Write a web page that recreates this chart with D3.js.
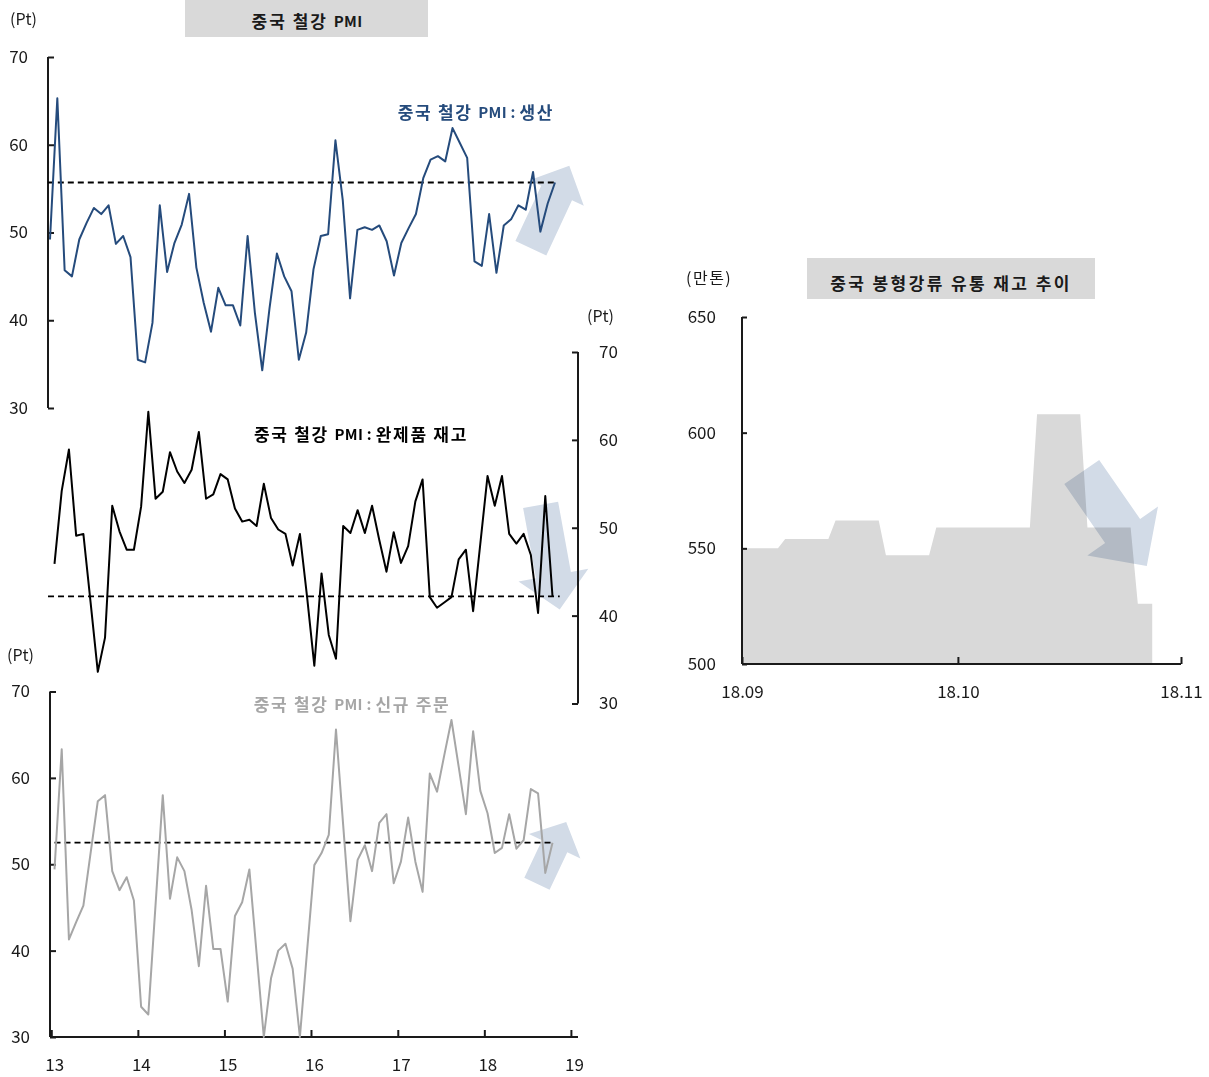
<!DOCTYPE html>
<html>
<head>
<meta charset="utf-8">
<script src="https://cdn.jsdelivr.net/npm/d3@7"></script>
<style>
  body { margin: 0; background: #fff; }
  svg { display: block; font-family: "Noto Sans CJK KR", "Noto Sans", sans-serif; }
</style>
</head>
<body>
<svg id="chart" width="1209" height="1077"></svg>
<script>
// China steel PMI sub-indices, monthly, Jan 2013 - Oct 2018 (index points)
const months = d3.timeMonth.range(new Date(2013, 0, 1), new Date(2018, 10, 1));
const production = [49.2, 65.3, 45.7, 45.0, 49.2, 51.1, 52.8, 52.1, 53.1, 48.7,
  49.6, 47.2, 35.5, 35.2, 39.7, 53.1, 45.5, 48.8, 50.9, 54.4,
  46.0, 42.0, 38.7, 43.7, 41.7, 41.7, 39.4, 49.6, 40.8, 34.3,
  41.4, 47.6, 45.0, 43.3, 35.5, 38.6, 45.8, 49.6, 49.8, 60.5,
  53.7, 42.5, 50.3, 50.6, 50.3, 50.8, 49.0, 45.1, 48.8, 50.5,
  52.1, 56.2, 58.3, 58.7, 58.1, 61.9, 60.2, 58.5, 46.7, 46.2,
  52.1, 45.4, 50.8, 51.5, 53.1, 52.6, 56.9, 50.1, 53.3, 55.7];
const inventory = [45.9, 54.2, 58.9, 49.1, 49.3, 41.5, 33.6, 37.5, 52.5, 49.6,
  47.5, 47.5, 52.4, 63.2, 53.3, 54.1, 58.6, 56.4, 55.1, 56.6,
  60.9, 53.3, 53.8, 56.1, 55.5, 52.2, 50.7, 50.9, 50.2, 55.0,
  51.1, 49.8, 49.3, 45.7, 49.3, 42.1, 34.3, 44.8, 37.8, 35.1,
  50.2, 49.4, 52.0, 49.4, 52.5, 48.6, 45.0, 49.5, 46.0, 47.9,
  53.0, 55.5, 42.1, 40.9, 41.5, 42.1, 46.4, 47.5, 40.5, 48.2,
  55.9, 52.5, 55.9, 49.3, 48.2, 49.3, 46.9, 40.3, 53.6, 42.2];
const newOrders = [49.4, 63.3, 41.3, 43.3, 45.2, 51.3, 57.3, 58.0, 49.2, 47.0,
  48.5, 45.8, 33.5, 32.6, 45.3, 58.0, 46.0, 50.8, 49.2, 44.7,
  38.2, 47.5, 40.2, 40.2, 34.1, 44.0, 45.6, 49.4, 39.7, 30.0,
  36.8, 40.0, 40.8, 37.9, 30.0, 40.0, 49.9, 51.3, 53.4, 65.6,
  54.5, 43.4, 50.5, 52.2, 49.2, 54.8, 55.8, 47.8, 50.3, 55.4,
  50.3, 46.8, 60.5, 58.4, 62.6, 66.7, 61.3, 55.8, 65.4, 58.5,
  55.9, 51.3, 51.9, 55.8, 51.8, 52.8, 58.7, 58.2, 49.0, 52.5];
const pmiTicks = [30, 40, 50, 60, 70];
const yearTicks = [2013, 2014, 2015, 2016, 2017, 2018, 2019];

// Distributed inventory of long steel products, weekly (10k tonnes)
const stockWeeks = ["2018-09-01", "2018-09-07", "2018-09-14", "2018-09-21", "2018-09-28",
  "2018-10-05", "2018-10-12", "2018-10-19", "2018-10-26"];
const stockValues = [550, 554, 562, 547, 559, 559, 608, 559, 526];
const stockLastDay = "2018-10-28";
const stockTicks = [500, 550, 600, 650];
const stockDateTicks = ["2018-09-01", "2018-10-01", "2018-11-01"];

const parseDay = d3.timeParse("%Y-%m-%d");
const svg = d3.select("#chart");
const INK = "#1a1a1a";
const BLUE = "#254b7c";
const GREY = "#a6a6a6";
const ARROW = "#d2dbe7";
const TICK_FONT = 17;

// ---------- scales ----------
const xTop = d3.scaleLinear().domain([0, months.length - 1]).range([50, 555]);
const xLow = d3.scaleLinear().domain([0, months.length - 1]).range([54.5, 552.5]);
const yTop = d3.scaleLinear().domain([30, 70]).range([408, 57]);
const yMid = d3.scaleLinear().domain([30, 70]).range([703.5, 352]);
const yBot = d3.scaleLinear().domain([30, 70]).range([1037, 691.5]);
const xYear = d3.scaleTime().domain([new Date(2013, 0, 1), new Date(2019, 0, 1)]).range([51.3, 570.9]);

const xStock = d3.scaleTime().domain([parseDay("2018-09-01"), parseDay("2018-11-01")]).range([742, 1181]);
const yStock = d3.scaleLinear().domain([500, 650]).range([664, 317]);

// block arrow built from a tail point and a tip point (pixels)
function blockArrow(t, p, shaft, head, headLen) {
  const dx = p[0] - t[0], dy = p[1] - t[1];
  const L = Math.hypot(dx, dy), ux = dx / L, uy = dy / L;
  const nx = -uy, ny = ux;
  const bx = p[0] - ux * headLen, by = p[1] - uy * headLen;
  const pts = [
    [t[0] + nx * shaft / 2, t[1] + ny * shaft / 2],
    [bx + nx * shaft / 2, by + ny * shaft / 2],
    [bx + nx * head / 2, by + ny * head / 2],
    p,
    [bx - nx * head / 2, by - ny * head / 2],
    [bx - nx * shaft / 2, by - ny * shaft / 2],
    [t[0] - nx * shaft / 2, t[1] - ny * shaft / 2]
  ];
  return "M" + pts.map(q => q[0].toFixed(1) + "," + q[1].toFixed(1)).join("L") + "Z";
}
function drawArrow(g, tail, tip, shaft, head, headLen) {
  g.append("path")
    .attr("d", blockArrow(tail, tip, shaft, head, headLen))
    .attr("fill", ARROW)
    .style("mix-blend-mode", "multiply");
}

function styleAxis(g) {
  g.select(".domain").remove();
  g.selectAll(".tick line").attr("stroke", INK).attr("stroke-width", 2);
  g.selectAll(".tick text").attr("fill", INK).attr("font-size", TICK_FONT)
    .attr("font-family", "Noto Sans CJK KR");
}

function noteText(x, y, txt, opts = {}) {
  const t = svg.append("text")
    .attr("x", x).attr("y", y)
    .attr("fill", opts.fill || INK)
    .attr("font-size", opts.size || 16)
    .attr("font-weight", opts.weight || 400)
    .attr("text-anchor", opts.anchor || "start")
    .attr("dominant-baseline", "central")
    .text(txt);
  if (opts.spacing) t.attr("letter-spacing", opts.spacing);
  return t;
}

// bold label mixing Korean (spaced) and Latin (tight, slightly smaller) runs
function seriesLabel(x, y, parts, fill, size, spacing) {
  const t = svg.append("text")
    .attr("x", x).attr("y", y)
    .attr("fill", fill)
    .attr("font-size", size)
    .attr("font-weight", 700)
    .attr("text-anchor", "middle")
    .attr("dominant-baseline", "central");
  parts.forEach(p => {
    const latin = /^[A-Za-z :]+$/.test(p);
    t.append("tspan")
      .attr("font-size", latin ? size - 2 : size)
      .attr("letter-spacing", latin ? 0.3 : spacing)
      .text(p);
  });
  return t;
}

// ---------- titles ----------
const arrowsLayer = svg.append("g");

svg.append("rect").attr("x", 185).attr("y", 0).attr("width", 243).attr("height", 37).attr("fill", "#d9d9d9");
seriesLabel(307, 20, ["중국 철강 ", "PMI"], INK, 17, 2);
svg.append("rect").attr("x", 807).attr("y", 258).attr("width", 288).attr("height", 41).attr("fill", "#d9d9d9");
noteText(951, 282, "중국 봉형강류 유통 재고 추이", { size: 17, weight: 700, anchor: "middle", spacing: 2.4 });

// ---------- production panel ----------
drawArrow(arrowsLayer, [xTop(65.7), yTop(48.2)], [xTop(70.95), yTop(57.6)], 34, 60, 30);
svg.append("line").attr("x1", 48).attr("x2", 48).attr("y1", yTop(70)).attr("y2", yTop(30))
  .attr("stroke", INK).attr("stroke-width", 2);
const gTop = svg.append("g").attr("transform", "translate(48,0)")
  .call(d3.axisLeft(yTop).tickValues(pmiTicks).tickSize(-6).tickSizeOuter(0).tickPadding(20));
styleAxis(gTop);
svg.append("line")
  .attr("x1", xTop(-0.3)).attr("x2", xTop(months.length - 1))
  .attr("y1", yTop(production[production.length - 1])).attr("y2", yTop(production[production.length - 1]))
  .attr("stroke", "#000").attr("stroke-width", 1.8).attr("stroke-dasharray", "6,4");
svg.append("path").datum(production)
  .attr("d", d3.line().x((d, i) => xTop(i)).y(d => yTop(d)))
  .attr("fill", "none").attr("stroke", BLUE).attr("stroke-width", 2).attr("stroke-linejoin", "round");
noteText(10, 18, "(Pt)", { size: 16 });
seriesLabel(476, 111, ["중국 철강 ", "PMI : ", "생산"], BLUE, 17, 1.7);

// ---------- finished-goods inventory panel ----------
drawArrow(arrowsLayer, [xLow(67.35), yMid(52.6)], [xLow(70.0), yMid(40.7)], 35.5, 71, 35);
svg.append("line").attr("x1", 578).attr("x2", 578).attr("y1", yMid(70)).attr("y2", yMid(30))
  .attr("stroke", INK).attr("stroke-width", 2);
const gMid = svg.append("g").attr("transform", "translate(578,0)")
  .call(d3.axisRight(yMid).tickValues(pmiTicks).tickSize(-6).tickSizeOuter(0).tickPadding(21));
styleAxis(gMid);
svg.append("line")
  .attr("x1", xLow(-0.9)).attr("x2", xLow(months.length))
  .attr("y1", yMid(inventory[inventory.length - 1])).attr("y2", yMid(inventory[inventory.length - 1]))
  .attr("stroke", "#000").attr("stroke-width", 1.8).attr("stroke-dasharray", "6,4");
svg.append("path").datum(inventory)
  .attr("d", d3.line().x((d, i) => xLow(i)).y(d => yMid(d)))
  .attr("fill", "none").attr("stroke", "#000").attr("stroke-width", 2).attr("stroke-linejoin", "round");
noteText(587, 315, "(Pt)", { size: 16 });
seriesLabel(361, 433, ["중국 철강 ", "PMI : ", "완제품 재고"], "#000", 17, 1.7);

// ---------- new orders panel ----------
drawArrow(arrowsLayer, [xLow(66.85), yBot(47.75)], [xLow(70.9), yBot(54.9)], 28, 57, 27);
svg.append("line").attr("x1", 50).attr("x2", 50).attr("y1", yBot(70)).attr("y2", yBot(30))
  .attr("stroke", INK).attr("stroke-width", 2);
const gBot = svg.append("g").attr("transform", "translate(50,0)")
  .call(d3.axisLeft(yBot).tickValues(pmiTicks).tickSize(-6).tickSizeOuter(0).tickPadding(20));
styleAxis(gBot);
svg.append("line").attr("x1", 50).attr("x2", 578).attr("y1", 1037).attr("y2", 1037)
  .attr("stroke", INK).attr("stroke-width", 2);
const gYear = svg.append("g").attr("transform", "translate(0,1037)")
  .call(d3.axisBottom(xYear).tickValues(yearTicks.map(y => new Date(y, 0, 1)))
    .tickFormat(d3.timeFormat("%y")).tickSize(-7).tickSizeOuter(0).tickPadding(22));
styleAxis(gYear);
gYear.selectAll(".tick text").attr("dx", 3);
svg.append("line")
  .attr("x1", xLow(0)).attr("x2", xLow(months.length - 1))
  .attr("y1", yBot(newOrders[newOrders.length - 1])).attr("y2", yBot(newOrders[newOrders.length - 1]))
  .attr("stroke", "#000").attr("stroke-width", 1.8).attr("stroke-dasharray", "6,4");
svg.append("path").datum(newOrders)
  .attr("d", d3.line().x((d, i) => xLow(i)).y(d => yBot(d)))
  .attr("fill", "none").attr("stroke", GREY).attr("stroke-width", 2).attr("stroke-linejoin", "round");
noteText(7, 654, "(Pt)", { size: 16 });
seriesLabel(352, 703, ["중국 철강 ", "PMI : ", "신규 주문"], GREY, 17, 1.7);

// ---------- long steel inventory panel ----------
const stockPts = [];
stockWeeks.forEach((w, i) => {
  const start = parseDay(w);
  const end = i < stockWeeks.length - 1 ? d3.timeDay.offset(parseDay(stockWeeks[i + 1]), -1) : parseDay(stockLastDay);
  stockPts.push([start, stockValues[i]], [end, stockValues[i]]);
});
const gStock = svg.append("g");
gStock.append("path").datum(stockPts)
  .attr("d", d3.area().x(d => xStock(d[0])).y0(yStock(500)).y1(d => yStock(d[1])))
  .attr("fill", "#d9d9d9");
drawArrow(gStock, [xStock(new Date(2018, 9, 18, 5)), yStock(583)], [xStock(new Date(2018, 9, 27, 6)), yStock(542.4)], 42.5, 86, 42.5);
svg.append("line").attr("x1", 742).attr("x2", 742).attr("y1", yStock(650)).attr("y2", yStock(500))
  .attr("stroke", INK).attr("stroke-width", 2);
svg.append("line").attr("x1", 742).attr("x2", 1181).attr("y1", yStock(500)).attr("y2", yStock(500))
  .attr("stroke", INK).attr("stroke-width", 2);
const gSY = svg.append("g").attr("transform", "translate(742,0)")
  .call(d3.axisLeft(yStock).tickValues(stockTicks).tickSize(-5).tickSizeOuter(0).tickPadding(26));
styleAxis(gSY);
const gSX = svg.append("g").attr("transform", `translate(0,${yStock(500)})`)
  .call(d3.axisBottom(xStock).tickValues(stockDateTicks.map(parseDay))
    .tickFormat(d3.timeFormat("%y.%m")).tickSize(-7).tickSizeOuter(0).tickPadding(22));
styleAxis(gSX);
noteText(686, 277, "(만톤)", { size: 16, spacing: 1.5 });
</script>
</body>
</html>
